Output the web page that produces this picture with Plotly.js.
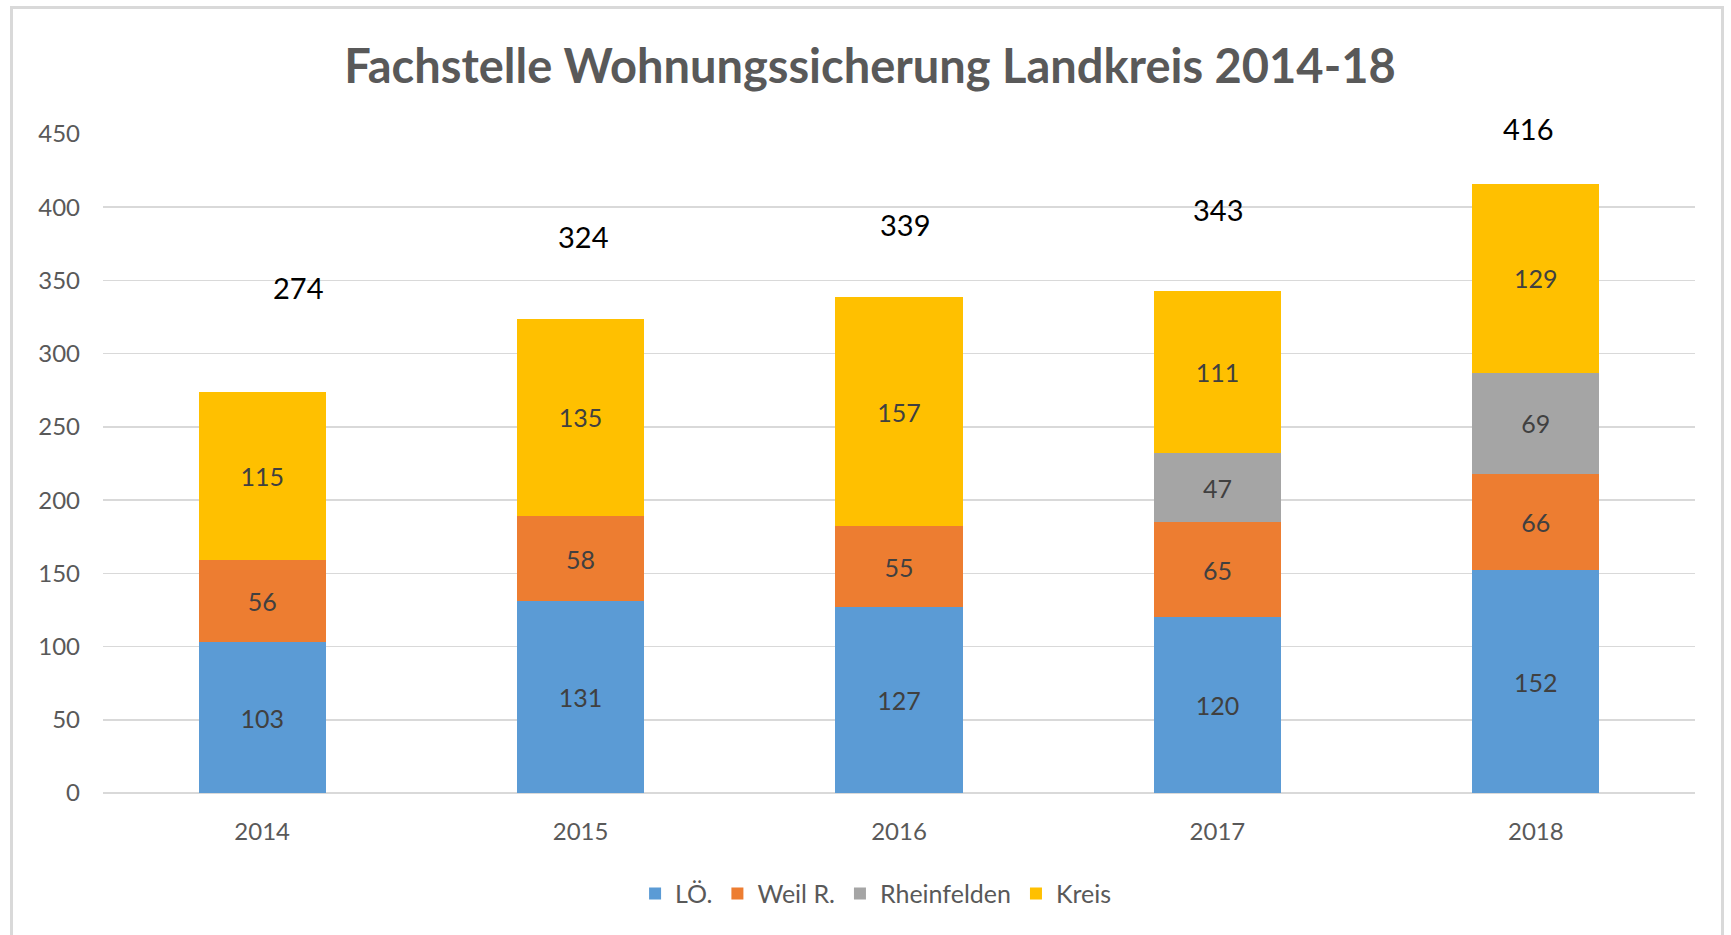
<!DOCTYPE html>
<html>
<head>
<meta charset="utf-8">
<script src="https://cdn.plot.ly/plotly-3.0.1.min.js"></script>
<style>
  html, body { margin: 0; padding: 0; background: #ffffff; }
  #frame { position: absolute; left: 10px; top: 6px; width: 1714px; height: 1000px;
           border: 3px solid #d9d9d9; box-sizing: border-box; pointer-events: none; z-index: 2; }
  #chart { position: absolute; left: 0; top: 0; width: 1731px; height: 935px; }
</style>
</head>
<body>
<div id="chart"></div>
<div id="frame"></div>
<script>
// ---- data ----
const years = ["2014", "2015", "2016", "2017", "2018"];
const seriesNames = ["LÖ.", "Weil R.", "Rheinfelden", "Kreis"];
const loe = [103, 131, 127, 120, 152];
const weil = [56, 58, 55, 65, 66];
const rheinfelden = [null, null, null, 47, 69];
const kreis = [115, 135, 157, 111, 129];
const totals = [274, 324, 339, 343, 416];
const yTicks = [0, 50, 100, 150, 200, 250, 300, 350, 400, 450];

// ---- styles ----
const colors = ["#5B9BD5", "#ED7D31", "#A5A5A5", "#FFC000"];
const FONT = "Lato, 'Open Sans', sans-serif";
// pixel offsets of the total labels relative to each bar top (layout only)
const totalShiftY = [104, 82, 72, 81, 55];
const totalShiftX = [36, 2, 6, 1, -8];

const values = [loe, weil, rheinfelden, kreis];
const traces = values.map((v, i) => ({
  type: "bar",
  name: seriesNames[i],
  x: years,
  y: v,
  marker: { color: colors[i], line: { width: 0 } },
  text: v.map(d => d == null ? "" : String(d)),
  textposition: "inside",
  insidetextanchor: "middle",
  textangle: 0,
  constraintext: "none",
  textfont: { family: FONT, size: 25, color: "#404040" },
  hoverinfo: "x+y+name"
}));

const annotations = totals.map((t, i) => ({
  x: i, y: t, xref: "x", yref: "y",
  text: String(t), showarrow: false,
  xanchor: "center", yanchor: "middle",
  yshift: totalShiftY[i], xshift: totalShiftX[i],
  font: { family: FONT, size: 29, color: "#000000" }
}));

const layout = {
  width: 1731, height: 935,
  paper_bgcolor: "rgba(0,0,0,0)",
  plot_bgcolor: "#ffffff",
  barmode: "stack",
  bargap: 0.6,
  margin: { l: 103, r: 36, t: 134, b: 142 },
  title: {
    text: "Fachstelle Wohnungssicherung Landkreis 2014-18",
    x: 0.5026, xanchor: "center", xref: "container",
    y: 0.929, yanchor: "middle", yref: "container",
    font: { family: FONT, size: 47, color: "#595959", weight: "bold" }
  },
  xaxis: {
    type: "category",
    categoryorder: "array",
    categoryarray: years,
    range: [-0.5, years.length - 0.5],
    autorange: false,
    tickfont: { family: FONT, size: 24, color: "#595959" },
    ticks: "", showline: false, showgrid: false,
    ticklabelstandoff: 22
  },
  yaxis: {
    range: [0, 450],
    autorange: false,
    tickvals: yTicks,
    ticktext: yTicks.map(String),
    tickfont: { family: FONT, size: 24, color: "#595959" },
    gridcolor: "#d9d9d9", gridwidth: 1.5,
    zeroline: true, zerolinecolor: "#d9d9d9", zerolinewidth: 1.5,
    showline: false, ticks: "", ticklabelstandoff: 22
  },
  legend: {
    orientation: "h",
    x: 0.4856, xanchor: "center",
    y: -0.153, yanchor: "middle",
    font: { family: FONT, size: 25, color: "#595959" },
    itemwidth: 30,
    traceorder: "normal",
    bgcolor: "rgba(0,0,0,0)"
  },
  annotations: annotations,
  showlegend: true
};

Plotly.newPlot("chart", traces, layout, { displayModeBar: false, staticPlot: true });
</script>
</body>
</html>
